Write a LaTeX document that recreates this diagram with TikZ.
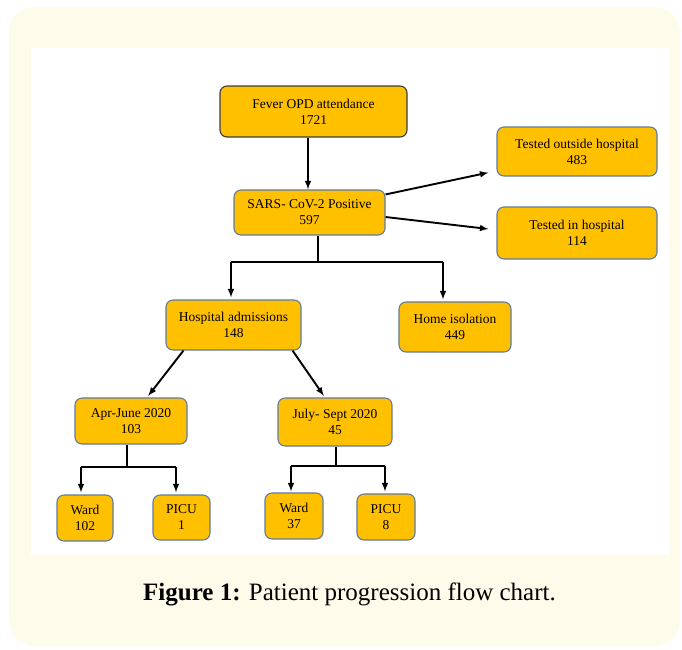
\documentclass[tikz,border=0pt]{standalone}
\usepackage{fontspec}
\setmainfont{Liberation Serif}
\usepackage{tikz}
\definecolor{gold}{RGB}{255,192,0}
\definecolor{cream}{RGB}{255,251,234}
\definecolor{edgeblue}{RGB}{96,124,160}
\definecolor{edgedark}{RGB}{60,60,60}
\newcommand{\twolines}[2]{#1\\#2}

\begin{document}
\begin{tikzpicture}[x=1pt,y=-1pt,
	box/.style={draw=edgeblue,line width=1.1pt,fill=gold,rounded corners=7pt,align=center,inner sep=0pt,font=\fontsize{13.5}{16}\selectfont},
	arr/.style={line width=1.9pt,-latex},
	link/.style={line width=1.9pt}]
		\useasboundingbox(0,0)rectangle(682,649);
		\fill[cream, rounded corners=25](9,7)rectangle(680,646);
		\fill[white](31,48)rectangle(669,555);
		\node[box, draw=edgedark, minimum width=187, minimum height=51](fever)at(313.5,111.5){\twolines{Fever OPD attendance}{1721}};
		\node[box, minimum width=151, minimum height=45](sars)at(309.5,212.5){\twolines{SARS- CoV-2 Positive}{597}};
		\node[box, minimum width=160, minimum height=49](outside)at(577,151.5){\twolines{Tested outside hospital}{483}};
		\node[box, minimum width=160, minimum height=52](inhosp)at(577,233){\twolines{Tested in hospital}{114}};
		\node[box, minimum width=135, minimum height=50](admit)at(233.5,325){\twolines{Hospital admissions}{148}};
		\node[box, minimum width=112, minimum height=50](home)at(455,327){\twolines{Home isolation}{449}};
		\node[box, minimum width=112, minimum height=46](apr)at(131,421){\twolines{Apr-June 2020}{103}};
		\node[box, minimum width=114, minimum height=48](jul)at(335,422){\twolines{July- Sept 2020}{45}};
		\node[box, minimum width=56, minimum height=46](wardA)at(85,518){\twolines{Ward}{102}};
		\node[box, minimum width=57, minimum height=45](picuA)at(181.5,517.5){\twolines{PICU}{1}};
		\node[box, minimum width=58, minimum height=46](wardB)at(294,516){\twolines{Ward}{37}};
		\node[box, minimum width=58, minimum height=46](picuB)at(386,517){\twolines{PICU}{8}};
		% arrows
		\draw[arr]([xshift=-1.5]fever.south -| sars.north)--([xshift=-1.5]sars.north);
		\draw[arr]([yshift=-5]sars.north east)--([xshift=-8, yshift=4]outside.south west);
		\draw[arr]([yshift=-4.5]sars.east)--([xshift=-8, yshift=4]inhosp.west);
		\coordinate(splitS)at(318,262);
		\coordinate(splitSl)at(231,262);
		\coordinate(splitSr)at(443,262);
		\draw[link]([xshift=8.5]sars.south)--(splitS);
		\draw[link](splitSl)--(splitSr);
		\draw[arr](splitSl)--([yshift=2]splitSl |- admit.north);
		\draw[arr](splitSr)--([yshift=2]splitSr |- home.north);
		\draw[arr, shorten >=2]([xshift=18]admit.south west)--([xshift=16]apr.north);
		\draw[arr, shorten >=2]([xshift=-9]admit.south east)--([xshift=-10]jul.north);
		\coordinate(splitA)at(127,467);
		\coordinate(splitAl)at(81,467);
		\coordinate(splitAr)at(176,467);
		\draw[link]([xshift=-4]apr.south)--(splitA);
		\draw[link](splitAl)--(splitAr);
		\draw[arr](splitAl)--([yshift=2]splitAl |- wardA.north);
		\draw[arr](splitAr)--([yshift=2]splitAr |- picuA.north);
		\coordinate(splitB)at(336,466);
		\coordinate(splitBl)at(291,466);
		\coordinate(splitBr)at(385,466);
		\draw[link]([xshift=1]jul.south)--(splitB);
		\draw[link](splitBl)--(splitBr);
		\draw[arr](splitBl)--([yshift=1]splitBl |- wardB.north);
		\draw[arr](splitBr)--([yshift=2]splitBr |- picuB.north);
		\node[font=\fontsize{25}{29}\selectfont](caption)at(349.5,594){\textbf{Figure 1:} Patient progression flow chart.};
	\end{tikzpicture}
\end{document}
